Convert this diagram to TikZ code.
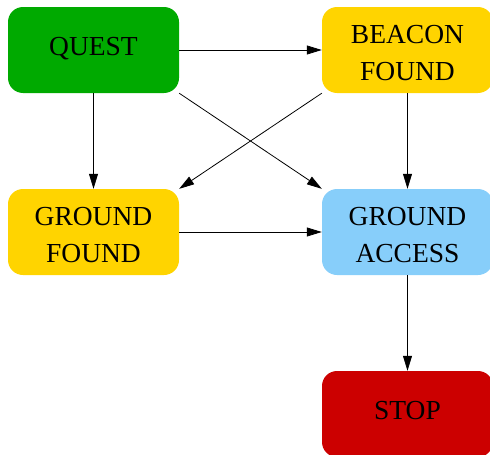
\documentclass[tikz,border=0pt]{standalone}
\usepackage{fontspec}
\setmainfont{Liberation Serif}
\usetikzlibrary{arrows.meta}
\definecolor{qgreen}{RGB}{0,170,0}
\definecolor{qgold}{RGB}{255,212,0}
\definecolor{qblue}{RGB}{135,206,250}
\definecolor{qred}{RGB}{204,0,0}
\tikzset{
  box/.style={rectangle, rounded corners=15pt, minimum width=171pt, minimum height=86pt,
    inner sep=0pt, draw=none},
  txt/.style={inner sep=0pt, align=center, font=\fontsize{27.5}{37}\selectfont},
  conn/.style={-{Triangle[length=15pt,width=9pt]}, line width=0.8pt, black}
}
\begin{document}
\begin{tikzpicture}[x=1pt,y=-1pt]
\useasboundingbox (0,0) rectangle (490,455);
\node[box, fill=qgreen] (quest) at (93.5,50) {};
\node[box, fill=qgold] (beacon) at (407.5,50) {};
\node[box, fill=qgold] (gfound) at (93.5,232) {};
\node[box, fill=qblue] (gaccess) at (407.5,232) {};
\node[box, fill=qred] (stop) at (407.5,414) {};
\node[txt] (questt) at (93.5,48.5) {QUEST};
\node[txt] (beacont) at (407.5,53) {BEACON\\FOUND};
\node[txt] (gfoundt) at (93.5,235) {GROUND\\FOUND};
\node[txt] (gaccesst) at (407.5,235) {GROUND\\ACCESS};
\node[txt] (stopt) at (407.5,411) {STOP};
\draw[conn] (quest) -- (beacon);
\draw[conn] (quest) -- (gfound);
\draw[conn] (quest.south east) -- (gaccess.north west);
\draw[conn] (beacon.south west) -- (gfound.north east);
\draw[conn] (beacon) -- (gaccess);
\draw[conn] (gfound) -- (gaccess);
\draw[conn] (gaccess) -- (stop);
\end{tikzpicture}
\end{document}
